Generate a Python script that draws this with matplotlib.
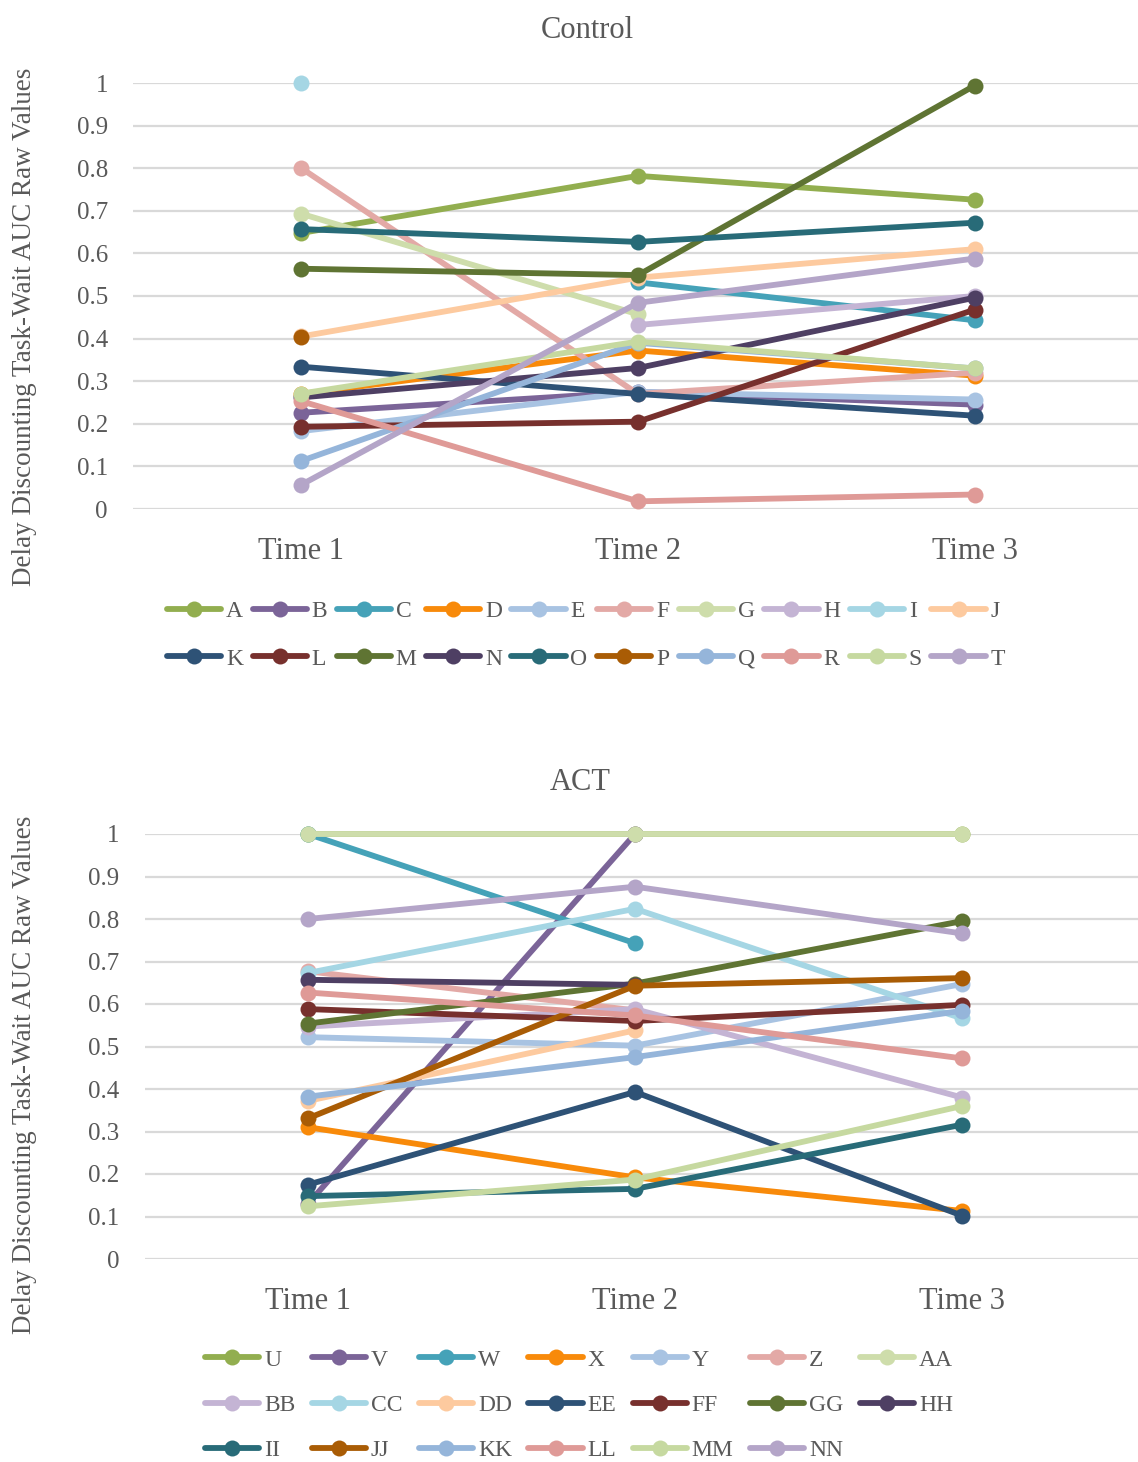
import numpy as np
import matplotlib.pyplot as plt

plt.rcParams['font.family'] = ['Liberation Serif', 'DejaVu Serif']

nan = np.nan
times = ['Time 1', 'Time 2', 'Time 3']
yticks = [0, 0.1, 0.2, 0.3, 0.4, 0.5, 0.6, 0.7, 0.8, 0.9, 1]
ytick_labels = ['0', '0.1', '0.2', '0.3', '0.4', '0.5', '0.6', '0.7', '0.8', '0.9', '1']

palette = ['#92AE4F', '#7B6498', '#45A2B8', '#F88A0A', '#A8C3E2',
           '#E3A9A6', '#CEDDAB', '#C4B4D4', '#A5D6E4', '#FDCA9F',
           '#2E5276', '#77302D', '#5F7433', '#4E3F63', '#286B78',
           '#A95C05', '#95B5DA', '#DF9A97', '#C6D9A0', '#B4A5C8']

# control group
control_names = ['A', 'B', 'C', 'D', 'E', 'F', 'G', 'H', 'I', 'J',
                 'K', 'L', 'M', 'N', 'O', 'P', 'Q', 'R', 'S', 'T']
control_vals = [
    [0.648, 0.782, 0.726],
    [0.226, 0.275, 0.245],
    [nan, 0.532, 0.443],
    [0.270, 0.372, 0.313],
    [0.183, 0.275, 0.257],
    [0.800, 0.270, 0.320],
    [0.693, 0.457, nan],
    [nan, 0.432, 0.500],
    [1.000, nan, nan],
    [0.405, 0.543, 0.610],
    [0.334, 0.270, 0.219],
    [0.193, 0.205, 0.468],
    [0.564, 0.549, 0.994],
    [0.262, 0.331, 0.496],
    [0.657, 0.627, 0.672],
    [0.404, nan, nan],
    [0.113, 0.390, 0.330],
    [0.253, 0.018, 0.034],
    [0.271, 0.393, 0.330],
    [0.057, 0.484, 0.588],
]

# ACT group
act_names = ['U', 'V', 'W', 'X', 'Y', 'Z', 'AA', 'BB', 'CC', 'DD',
             'EE', 'FF', 'GG', 'HH', 'II', 'JJ', 'KK', 'LL', 'MM', 'NN']
act_vals = [
    [1.000, 1.000, 1.000],
    [0.130, 1.000, nan],
    [1.000, 0.743, nan],
    [0.310, 0.192, 0.113],
    [0.522, 0.502, 0.647],
    [0.677, 0.585, nan],
    [1.000, 1.000, 1.000],
    [0.547, 0.588, 0.380],
    [0.673, 0.824, 0.566],
    [0.372, 0.538, nan],
    [0.175, 0.393, 0.102],
    [0.588, 0.560, 0.598],
    [0.554, 0.648, 0.795],
    [0.657, 0.645, nan],
    [0.148, 0.165, 0.316],
    [0.331, 0.643, 0.661],
    [0.382, 0.475, 0.584],
    [0.627, 0.573, 0.472],
    [0.124, 0.187, 0.360],
    [0.800, 0.876, 0.766],
]

ylab = 'Delay Discounting Task-Wait AUC Raw Values'
txtc = '#595959'
W, H = 1138, 1462

fig = plt.figure(figsize=(W / 100, H / 100), dpi=100)


def draw_panel(rect, names, vals, xmax):
    ax = fig.add_axes(rect)
    x = np.arange(len(times))
    lines = []
    for i, (nm, v) in enumerate(zip(names, vals)):
        ln, = ax.plot(x, v, color=palette[i % len(palette)], lw=4.2,
                      marker='o', ms=11.5, mew=0, label=nm, clip_on=False,
                      solid_capstyle='round')
        lines.append(ln)
    ax.set_xlim(-0.5, xmax)
    ax.set_ylim(0, 1)
    ax.set_yticks(yticks)
    ax.set_yticklabels(ytick_labels)
    ax.set_xticks(x)
    ax.set_xticklabels(times)
    ax.grid(axis='y', color='#D9D9D9', lw=1.6)
    ax.set_axisbelow(True)
    for s in ax.spines.values():
        s.set_visible(False)
    ax.tick_params(axis='y', length=0, pad=18, labelsize=18, labelcolor=txtc)
    ax.tick_params(axis='x', length=0, pad=20, labelsize=22, labelcolor=txtc)
    return ax, lines


def row_major(items, ncol):
    rows = [items[i:i + ncol] for i in range(0, len(items), ncol)]
    out = []
    for j in range(ncol):
        for r in rows:
            if j < len(r):
                out.append(r[j])
    return out


# top panel
ax1, l1 = draw_panel([133 / W, 1 - 509 / H, 1005 / W, 426 / H],
                     control_names, control_vals, 2.485)
fig.text(587 / W, 1 - 31 / H, 'Control', ha='center', va='center',
         fontsize=22, color=txtc)
fig.text(25 / W, 1 - 327 / H, ylab, rotation=90, ha='center', va='center',
         fontsize=19.5, color=txtc)
h = row_major(l1, 10)
leg1 = fig.legend(h, [x.get_label() for x in h], ncol=10, loc='center',
                  bbox_to_anchor=(586 / W, 1 - 635 / H), frameon=False,
                  fontsize=17, handlelength=2.3, handletextpad=0.2,
                  columnspacing=0.4, labelspacing=1.1, labelcolor=txtc)

# bottom panel
ax2, l2 = draw_panel([144.5 / W, 1 - 1259 / H, 993.5 / W, 425 / H],
                     act_names, act_vals, 2.538)
fig.text(580 / W, 1 - 783 / H, 'ACT', ha='center', va='center',
         fontsize=22, color=txtc)
fig.text(25 / W, 1 - 1075 / H, ylab, rotation=90, ha='center', va='center',
         fontsize=19.5, color=txtc)
h = row_major(l2, 7)
leg2 = fig.legend(h, [x.get_label() for x in h], ncol=7, loc='center',
                  bbox_to_anchor=(579 / W, 1 - 1405 / H), frameon=False,
                  fontsize=17, handlelength=2.3, handletextpad=0.2,
                  columnspacing=0.7, labelspacing=1.0, labelcolor=txtc)

fig.savefig('out.png', dpi=100)
